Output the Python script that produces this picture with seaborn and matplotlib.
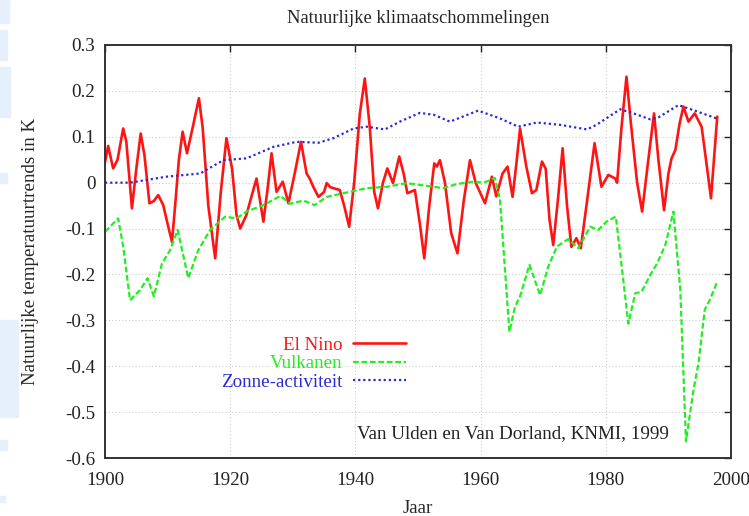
import matplotlib
matplotlib.use("Agg")
import matplotlib.pyplot as plt
from matplotlib.patches import Rectangle
import seaborn as sns

# El Nino
nino_year = [1900.0, 1900.5, 1901.3, 1902.0, 1902.9, 1903.4, 1904.3, 1905.0, 1905.7, 1906.3,
             1907.1, 1907.8, 1908.5, 1909.3, 1910.0, 1910.7, 1911.2, 1911.8, 1912.4, 1913.1,
             1914.0, 1915.0, 1915.6, 1916.5, 1917.6, 1918.5, 1919.4, 1920.3, 1921.0, 1921.6,
             1922.6, 1923.4, 1924.2, 1925.3, 1926.0, 1926.6, 1927.4, 1928.4, 1929.3, 1930.3,
             1931.3, 1932.2, 1932.7, 1933.3, 1934.1, 1935.0, 1935.4, 1936.0, 1936.5, 1937.5,
             1938.2, 1939.0, 1939.8, 1940.7, 1941.5, 1942.3, 1943.0, 1943.6, 1944.4, 1945.1,
             1946.0, 1947.0, 1947.7, 1948.3, 1949.5, 1950.3, 1951.0, 1951.8, 1952.6, 1953.0,
             1953.5, 1954.3, 1955.3, 1956.3, 1957.3, 1958.3, 1959.2, 1960.7, 1961.8, 1962.5,
             1963.5, 1964.3, 1965.1, 1965.7, 1966.3, 1967.3, 1968.2, 1968.9, 1969.8, 1970.4,
             1971.0, 1971.6, 1972.4, 1973.1, 1973.8, 1974.5, 1975.3, 1976.0, 1977.0, 1978.2,
             1979.3, 1980.4, 1981.5, 1981.8, 1982.5, 1983.3, 1984.0, 1985.0, 1985.8, 1986.7,
             1987.7, 1988.4, 1989.3, 1990.0, 1990.5, 1991.1, 1991.8, 1992.4, 1993.2, 1994.2,
             1995.3, 1996.0, 1996.8, 1997.8]
nino_val = [0.045, 0.08, 0.031, 0.05, 0.118, 0.09, -0.056, 0.03, 0.107, 0.06,
            -0.045, -0.04, -0.027, -0.049, -0.09, -0.129, -0.05, 0.05, 0.111, 0.064,
            0.12, 0.184, 0.12, -0.05, -0.165, -0.02, 0.097, 0.03, -0.07, -0.10,
            -0.07, -0.03, 0.009, -0.085, -0.01, 0.064, -0.02, 0.002, -0.045, 0.02,
            0.089, 0.02, 0.009, -0.01, -0.031, -0.02, -0.001, -0.01, -0.012, -0.016,
            -0.05, -0.096, 0.0, 0.15, 0.227, 0.12, -0.02, -0.056, 0.0, 0.031,
            -0.001, 0.057, 0.02, -0.023, -0.016, -0.09, -0.165, -0.05, 0.042, 0.035,
            0.049, 0.0, -0.11, -0.154, -0.04, 0.049, 0.0, -0.045, 0.013, -0.03,
            0.02, 0.035, -0.031, 0.04, 0.118, 0.035, -0.023, -0.016, 0.046, 0.03,
            -0.08, -0.136, -0.03, 0.075, -0.05, -0.14, -0.121, -0.143, -0.04, 0.086,
            -0.009, 0.017, 0.009, 0.0, 0.12, 0.231, 0.13, 0.0, -0.063, 0.04,
            0.151, 0.05, -0.06, 0.02, 0.053, 0.071, 0.13, 0.166, 0.133, 0.151,
            0.122, 0.05, -0.034, 0.144]

# Vulkanen
vulk_year = [1900.0, 1902.1, 1902.9, 1904.0, 1905.6, 1906.8, 1907.8, 1909.1, 1910.4, 1911.6,
             1913.3, 1914.9, 1916.8, 1919.2, 1921.0, 1922.6, 1925.3, 1928.0, 1929.6, 1931.7,
             1933.5, 1935.4, 1938.1, 1941.8, 1945.0, 1948.2, 1951.4, 1954.0, 1956.2, 1958.8,
             1960.5, 1962.3, 1963.1, 1964.6, 1965.5, 1966.3, 1967.8, 1969.5, 1970.8, 1972.2,
             1974.0, 1975.6, 1977.5, 1978.8, 1980.1, 1981.6, 1983.6, 1984.7, 1985.7, 1987.1,
             1988.2, 1989.5, 1990.8, 1991.9, 1992.8, 1994.0, 1994.8, 1995.8, 1996.6, 1997.7]
vulk_val = [-0.107, -0.078, -0.139, -0.256, -0.234, -0.208, -0.248, -0.176, -0.147, -0.103,
            -0.208, -0.147, -0.103, -0.074, -0.078, -0.063, -0.049, -0.029, -0.046, -0.039,
            -0.049, -0.031, -0.023, -0.012, -0.009, -0.001, -0.007, -0.012, -0.003, 0.002,
            0.0, 0.01, -0.038, -0.325, -0.27, -0.248, -0.179, -0.245, -0.183, -0.139,
            -0.123, -0.143, -0.096, -0.103, -0.085, -0.074, -0.307, -0.241, -0.238, -0.201,
            -0.176, -0.136, -0.063, -0.234, -0.564, -0.452, -0.394, -0.277, -0.256, -0.219]

# Zonne-activiteit
zon_year = [1900.0, 1904.0, 1909.8, 1915.2, 1918.9, 1922.6, 1926.9, 1930.6, 1934.1, 1936.5,
            1939.7, 1941.8, 1944.7, 1947.1, 1950.3, 1952.5, 1955.1, 1959.6, 1963.1, 1966.0,
            1969.0, 1972.7, 1977.0, 1978.5, 1982.3, 1984.4, 1987.1, 1988.5, 1991.6, 1994.0,
            1997.7]
zon_val = [0.0, 0.0, 0.013, 0.02, 0.049, 0.053, 0.078, 0.089, 0.087, 0.097,
           0.118, 0.122, 0.116, 0.133, 0.152, 0.148, 0.133, 0.157, 0.14, 0.122,
           0.131, 0.126, 0.116, 0.126, 0.16, 0.151, 0.138, 0.143, 0.169, 0.158,
           0.14]

yticks = [-0.6, -0.5, -0.4, -0.3, -0.2, -0.1, 0, 0.1, 0.2, 0.3]
ytick_labels = ["-0.6", "-0.5", "-0.4", "-0.3", "-0.2", "-0.1", "0", "0.1", "0.2", "0.3"]

sns.set_style("white")
plt.rcParams["font.family"] = ["Liberation Serif", "DejaVu Serif"]

fig = plt.figure(figsize=(7.49, 5.16), dpi=100)
ax = fig.add_axes([0.1402, 0.1124, 0.8358, 0.8004])

# faint blue blocks down the left edge of the screenshot (behind everything)
for y0, h, w in [(0, 23, 9), (30, 30, 7), (67, 50, 10), (173, 10, 7),
                 (320, 97, 18), (440, 10, 7), (496, 6, 5)]:
    fig.patches.append(Rectangle((0, 1 - (y0 + h) / 516), w / 749, h / 516,
                                 transform=fig.transFigure, color="#e6effc", zorder=-5))

sns.lineplot(x=nino_year, y=nino_val, ax=ax, color="#ff1414", lw=1.9,
             label="El Nino", estimator=None)
sns.lineplot(x=vulk_year, y=vulk_val, ax=ax, color="#22ee22", lw=1.6,
             linestyle=(0, (2.6, 1.2)), label="Vulkanen", estimator=None)
sns.lineplot(x=zon_year, y=zon_val, ax=ax, color="#2a2ad4", lw=1.6,
             linestyle=(0, (1.0, 1.3)), label="Zonne-activiteit", estimator=None)

ax.set_xlim(1900, 2000)
ax.set_ylim(-0.6, 0.3)
ax.set_xticks(range(1900, 2001, 20))
ax.set_yticks(yticks)
ax.set_yticklabels(ytick_labels)
ax.grid(True, color="#cccccc", linestyle=(0, (1, 2)), lw=0.8)
ax.tick_params(direction="in", length=5, width=1, top=True, right=True,
               labelsize=13.7, colors="#222222")
ax.tick_params(axis="x", pad=10)
ax.tick_params(axis="y", pad=7)
for s in ax.spines.values():
    s.set_color("#333333")
    s.set_linewidth(1.4)

ax.set_title("Natuurlijke klimaatschommelingen", fontsize=13.3, pad=16)
ax.set_xlabel("Jaar", fontsize=13.7, labelpad=8)
ax.set_ylabel("Natuurlijke temperatuurtrends in K", fontsize=13.7, labelpad=19)

ax.legend(loc="upper right", bbox_to_anchor=(0.481, 0.294), frameon=False,
          markerfirst=False, labelcolor="linecolor", fontsize=13.7,
          handlelength=2.8, handletextpad=0.55, labelspacing=0.06, borderpad=0,
          borderaxespad=0)

ax.text(0.403, 0.058, "Van Ulden en Van Dorland, KNMI, 1999", transform=ax.transAxes,
        fontsize=13.7, color="#222222", va="center", ha="left")

fig.savefig("out.png", dpi=100)
